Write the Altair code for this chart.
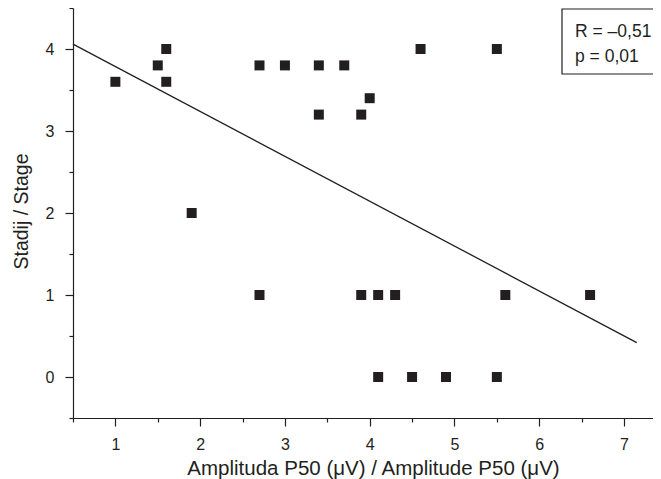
import altair as alt
import pandas as pd

# ---- data ----
amplitude = [1.0, 1.5, 1.6, 1.6, 1.9, 2.7, 2.7, 3.0, 3.4, 3.7, 3.4, 3.9,
             4.0, 4.6, 5.5, 3.9, 4.1, 4.3, 5.6, 6.6, 4.1, 4.5, 4.9, 5.5]
stage = [3.6, 3.8, 4.0, 3.6, 2.0, 3.8, 1.0, 3.8, 3.8, 3.8, 3.2, 3.2,
         3.4, 4.0, 4.0, 1.0, 1.0, 1.0, 1.0, 1.0, 0.0, 0.0, 0.0, 0.0]

fit_x = [0.5, 7.15]
fit_y = [4.06, 0.42]

stats_text = ["R = –0,51", "p = 0,01"]

x_major = [1, 2, 3, 4, 5, 6, 7]
x_minor = [0.5, 1.5, 2.5, 3.5, 4.5, 5.5, 6.5]
y_major = [0, 1, 2, 3, 4]
y_minor = [-0.5, 0.5, 1.5, 2.5, 3.5, 4.5]

x_title = "Amplituda P50 (μV) / Amplitude P50 (μV)"
y_title = "Stadij / Stage"

INK = "#231f20"
FONT = "Liberation Sans"

pts = pd.DataFrame({"amp": amplitude, "stage": stage})
fit = pd.DataFrame({"x": fit_x, "y": fit_y})
one = pd.DataFrame({"k": [0]})

xs = alt.Scale(domain=[0.5, 7.342], nice=False, zero=False)
ys = alt.Scale(domain=[-0.5, 4.5], nice=False, zero=False)

common_axis = dict(grid=False, domainColor=INK, domainWidth=1.2, tickColor=INK,
                   tickWidth=1.2, labelColor=INK, labelFont=FONT, labelFontSize=16,
                   titleFont=FONT, titleFontWeight="normal", titleColor=INK)

points = alt.Chart(pts).mark_square(size=100, color=INK, opacity=1).encode(
    x=alt.X("amp:Q", scale=xs, axis=alt.Axis(
        values=x_major, tickSize=8, labelPadding=10, orient="bottom",
        title=x_title, titleFontSize=20.5, titleX=300, titleY=56,
        titleBaseline="alphabetic", titleAlign="center", **common_axis)),
    y=alt.Y("stage:Q", scale=ys, axis=alt.Axis(
        values=y_major, tickSize=8, labelPadding=11, orient="left",
        title=y_title, titleFontSize=19.5, titleX=-45.7, titleY=203,
        titleAngle=270, titleBaseline="alphabetic", titleAlign="center",
        **common_axis)),
)

line = alt.Chart(fit).mark_line(color=INK, strokeWidth=1.3).encode(
    x=alt.X("x:Q", scale=xs, axis=alt.Axis(
        values=x_minor, tickSize=4, labels=False, domain=False, title=None,
        orient="bottom", grid=False, tickColor=INK, tickWidth=1.2)),
    y=alt.Y("y:Q", scale=ys, axis=alt.Axis(
        values=y_minor, tickSize=4, labels=False, domain=False, title=None,
        orient="left", grid=False, tickColor=INK, tickWidth=1.2)),
)

box = alt.Chart(one).mark_rect(fill="white", stroke=INK, strokeWidth=1.2).encode(
    x=alt.value(489), x2=alt.value(640), y=alt.value(1), y2=alt.value(66)
)

stats = alt.Chart(one).mark_text(
    align="left", baseline="alphabetic", fontSize=17.5, lineHeight=24.4,
    font=FONT, color=INK
).encode(x=alt.value(502), y=alt.value(29.3), text=alt.value(stats_text))

chart = alt.layer(points, line, box, stats).resolve_axis(
    x="independent", y="independent"
).properties(
    width=580, height=410,
    autosize=alt.AutoSizeParams(type="none"),
    padding={"left": 65, "top": 0, "right": 0, "bottom": 63},
).configure_view(stroke=None)

chart.save("out.html", embed_options={"renderer": "svg", "actions": False})
